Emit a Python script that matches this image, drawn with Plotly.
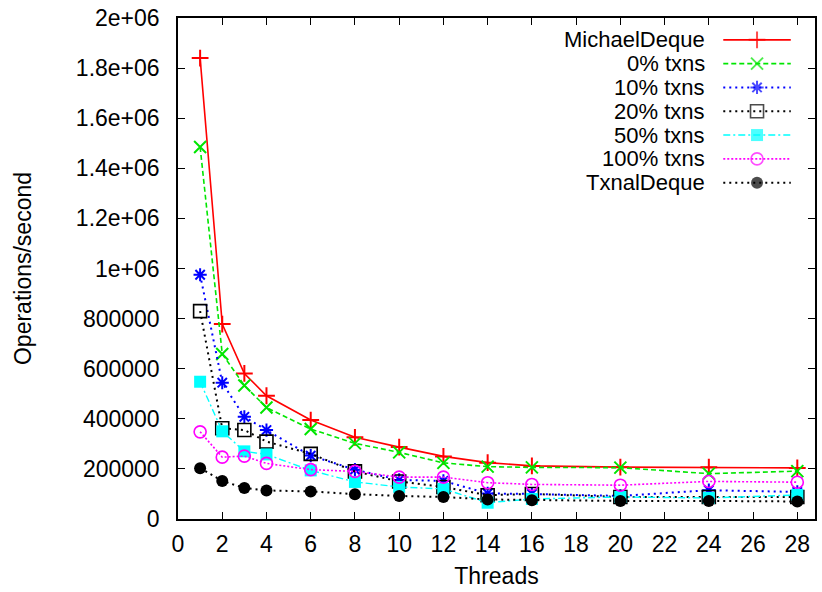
import plotly.graph_objects as go

# Throughput (operations/second) per thread count for each deque variant
threads = [1, 2, 3, 4, 6, 8, 10, 12, 14, 16, 20, 24, 28]

michael_deque = [1840000, 778000, 581000, 492000, 395000, 326000, 287000, 250000, 225000, 212000, 207000, 207000, 204000]
txns_0 = [1485000, 659000, 533000, 445000, 359000, 302000, 266000, 224000, 209000, 206000, 205000, 181000, 191000]
txns_10 = [975000, 544000, 408000, 355000, 253000, 197000, 156000, 152000, 102000, 100000, 92000, 115000, 108000]
txns_20 = [830000, 362000, 355000, 309000, 260000, 190000, 150000, 128000, 95000, 100000, 88000, 88000, 88000]
txns_50 = [548000, 350000, 270000, 258000, 194000, 148000, 128000, 120000, 65000, 80000, 88000, 84000, 96000]
txns_100 = [348000, 247000, 251000, 222000, 197000, 190000, 167000, 167000, 145000, 138000, 135000, 150000, 147000]
txnal_deque = [203000, 152000, 124000, 114000, 110000, 99000, 92000, 88000, 78000, 75000, 72000, 72000, 70000]

series_names = ["MichaelDeque", "0% txns", "10% txns", "20% txns", "50% txns", "100% txns", "TxnalDeque"]
series_values = [michael_deque, txns_0, txns_10, txns_20, txns_50, txns_100, txnal_deque]

y_tick_values = [0, 200000, 400000, 600000, 800000, 1000000, 1200000, 1400000, 1600000, 1800000, 2000000]
y_tick_labels = ["0", "200000", "400000", "600000", "800000", "1e+06", "1.2e+06", "1.4e+06", "1.6e+06", "1.8e+06", "2e+06"]

# Line / marker styling per series
styles = {
    "MichaelDeque": dict(color="#ff0000", dash="solid", width=1.6, symbol="cross-thin", size=12, lw=2),
    "0% txns": dict(color="#00e600", dash="5px,3px", width=1.6, symbol="x-thin", size=12, lw=2),
    "10% txns": dict(color="#0000ff", dash="2px,4px", width=2, symbol="asterisk", size=11, lw=2),
    "20% txns": dict(color="#000000", dash="2px,4px", width=2, symbol="square-open", size=13, lw=1.6),
    "50% txns": dict(color="#00ffff", dash="7px,3px,2px,3px", width=1.4, symbol="square", size=12, lw=0),
    "100% txns": dict(color="#ff00ff", dash="2px,2px", width=1.6, symbol="circle-open", size=12, lw=1.6),
    "TxnalDeque": dict(color="#000000", dash="2px,4px", width=2, symbol="circle", size=12, lw=0),
}

FONT = "Liberation Sans, Arial, sans-serif"
FS = 23
fig = go.Figure()

for name, vals in zip(series_names, series_values):
    st = styles[name]
    fig.add_trace(go.Scatter(
        x=threads, y=vals, mode="lines+markers", name=name, showlegend=False,
        line=dict(color=st["color"], dash=st["dash"], width=st["width"]),
        marker=dict(symbol=st["symbol"], size=st["size"], color=st["color"],
                    line=dict(color=st["color"], width=st["lw"])),
    ))

# Key in the top-right corner: right-aligned text with the sample line to its right
key_text_x = 0.829
key_line_x = [0.856, 0.909, 0.962]
key_top_px, key_step_px, plot_h_px = 36 - 14, 24, 505
for i, name in enumerate(series_names):
    st = styles[name]
    ky = 1 - (key_top_px + key_step_px * i) / plot_h_px
    fig.add_trace(go.Scatter(
        x=key_line_x, y=[ky] * 3, xaxis="x2", yaxis="y2", mode="lines+markers",
        showlegend=False, hoverinfo="skip",
        line=dict(color=st["color"], dash=st["dash"], width=st["width"]),
        marker=dict(symbol=st["symbol"], size=[0, st["size"], 0], color=st["color"],
                    line=dict(color=st["color"], width=st["lw"])),
    ))
    fig.add_annotation(x=key_text_x, y=ky, xref="x2", yref="y2", text=name,
                       showarrow=False, xanchor="right", yanchor="middle", borderpad=0,
                       font=dict(family=FONT, size=22, color="#000000"))

axis_common = dict(showline=True, linecolor="#000000", linewidth=1.5, mirror="ticks",
                   ticks="inside", ticklen=7, tickwidth=1, tickcolor="#000000",
                   showgrid=False, zeroline=False,
                   tickfont=dict(family=FONT, size=FS, color="#000000"))

fig.update_layout(
    width=822, height=592,
    margin=dict(l=178, r=5, t=14, b=73),
    paper_bgcolor="white", plot_bgcolor="white",
    xaxis=dict(range=[0, 28.8], tickmode="linear", tick0=0, dtick=2,
               title=dict(text="Threads", font=dict(family=FONT, size=FS, color="#000000"), standoff=12),
               ticklabelstandoff=4, **axis_common),
    yaxis=dict(range=[0, 2000000], tickvals=y_tick_values, ticktext=y_tick_labels,
               title=dict(text="Operations/second", font=dict(family=FONT, size=FS, color="#000000"), standoff=38),
               ticklabelstandoff=12, **axis_common),
    xaxis2=dict(overlaying="x", range=[0, 1], visible=False, anchor="y2"),
    yaxis2=dict(overlaying="y", range=[0, 1], visible=False, anchor="x2"),
)

fig.write_html("out.html")
